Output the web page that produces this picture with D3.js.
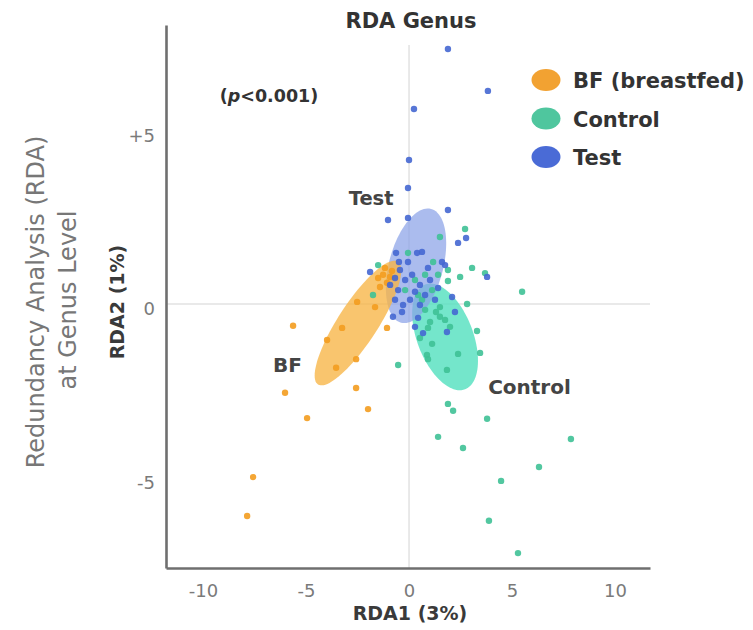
<!DOCTYPE html>
<html><head><meta charset="utf-8">
<script src="https://cdn.jsdelivr.net/npm/d3@7"></script>
<style>
body{margin:0;background:#fff;}
svg{display:block;font-family:"DejaVu Sans",sans-serif;}
</style></head>
<body><svg id="c" width="753" height="630"></svg>
<script>
// ---- data ----
const groups = ["BF (breastfed)", "Control", "Test"];
const groupShort = ["BF", "Control", "Test"];
const xTicks = [-10, -5, 0, 5, 10];
const yTicks = [-5, 0, 5];
const yTickLabels = ["-5", "0", "+5"];

const bfX = [-1.50,-1.26,-0.92,-1.07,-1.41,-1.17,-0.83,-2.52,-1.65,-5.63,-3.25,-1.07,-3.98,-2.57,-3.54,-6.02,-2.57,-1.99,-4.95,-7.57,-7.86];
const bfY = [0.75,0.84,0.78,0.61,0.49,1.04,0.95,0.06,-0.09,-0.63,-0.69,-0.69,-1.04,-1.59,-1.84,-2.56,-2.42,-3.03,-3.29,-4.99,-6.11];

const controlX = [2.72,1.50,-1.50,-0.05,1.89,2.48,3.06,3.69,1.89,5.49,2.82,1.50,1.50,0.92,1.99,3.30,1.12,0.53,3.45,2.38,0.87,0.92,-0.53,1.84,1.89,2.14,3.79,1.41,2.62,7.86,6.31,4.47,3.88,5.29,-1.75,0.29,0.78,1.12,0.44,-0.19,1.31,0.78,1.75,1.02,1.17,0.63,1.41];
const controlY = [2.16,1.93,1.12,1.47,0.98,0.78,1.04,0.89,0.66,0.35,0.00,-0.09,-0.37,-0.69,-0.66,-0.78,-1.15,-0.98,-1.41,-1.44,-1.47,-1.59,-1.76,-1.90,-2.88,-3.08,-3.31,-3.83,-4.15,-3.89,-4.70,-5.10,-6.25,-7.18,0.26,0.69,0.84,0.40,0.26,0.40,-0.23,-0.17,-0.46,-0.52,1.21,0.12,0.84];

const testX = [1.89,3.83,0.24,0.00,-0.05,1.89,-1.02,-0.05,2.77,2.38,-0.63,0.39,0.63,-0.49,1.60,1.75,3.79,-1.89,2.09,2.23,-0.78,0.44,0.29,1.84,0.68,-0.44,-0.19,0.15,0.53,-0.53,0.78,0.05,1.02,-0.29,0.29,1.26,-0.92,0.92,-0.05,0.53,-0.68,1.41,-0.34,-0.68];
const testY = [7.35,6.14,5.62,4.15,3.34,2.71,2.42,2.48,1.90,1.76,1.47,1.47,1.50,1.21,1.21,1.12,0.78,0.92,0.20,-0.23,-0.37,-0.40,-0.66,-0.81,-0.84,0.98,0.69,0.84,0.55,0.40,0.26,0.12,0.69,-0.03,0.35,0.12,0.55,1.04,1.21,-0.03,0.12,0.46,-0.23,0.75];

// confidence ellipses: centre, major and minor half-axis vectors (data units)
const ellipseCenter = [[-2.48,-0.55],[1.75,-0.95],[0.34,1.10]];
const ellipseMajor  = [[1.94,1.77],[0.97,-1.51],[0.73,1.64]];
const ellipseMinor  = [[0.81,-0.31],[1.27,0.29],[1.27,-0.20]];

// ---- styles ----
const pointColor = ["#f39c1f","#3fc196","#4567d2"];
const legendColor = ["#f2a232","#4fc69e","#4a6bd6"];
const ellipseFill = ["#f7b545","#55e0c0","#8ba2e8"];
const ellipseOpacity = [0.78,0.82,0.72];

const svg = d3.select("#c");
const L = 166, R = 650, T = 25, B = 568;
const x = d3.scaleLinear().domain([-11.80, 11.70]).range([L, R]);
const y = d3.scaleLinear().domain([-7.61, 8.04]).range([B, T]);

// gridlines
svg.append("line").attr("x1", x(0)).attr("x2", x(0)).attr("y1", 45).attr("y2", B)
  .attr("stroke", "#e2e2e2").attr("stroke-width", 1.5);
svg.append("line").attr("x1", L).attr("x2", R).attr("y1", y(0)).attr("y2", y(0))
  .attr("stroke", "#e2e2e2").attr("stroke-width", 1.5);

// ellipses
const line = d3.line().x(d => x(d[0])).y(d => y(d[1])).curve(d3.curveLinearClosed);
const order = [1, 2, 0];
order.forEach(i => {
  const pts = d3.range(0, 96).map(k => {
    const t = k / 96 * 2 * Math.PI;
    return [ellipseCenter[i][0] + ellipseMajor[i][0]*Math.cos(t) + ellipseMinor[i][0]*Math.sin(t),
            ellipseCenter[i][1] + ellipseMajor[i][1]*Math.cos(t) + ellipseMinor[i][1]*Math.sin(t)];
  });
  svg.append("path").attr("d", line(pts)).attr("fill", ellipseFill[i]).attr("fill-opacity", ellipseOpacity[i]);
});

// points
const series = [[bfX, bfY], [controlX, controlY], [testX, testY]];
[1, 0, 2].forEach(i => {
  const data = series[i][0].map((v, k) => [v, series[i][1][k]]);
  svg.append("g").selectAll("circle").data(data).join("circle")
    .attr("cx", d => x(d[0])).attr("cy", d => y(d[1])).attr("r", 3.2)
    .attr("fill", pointColor[i]).attr("fill-opacity", 0.9);
});

// axes
const xAxis = svg.append("g").attr("transform", `translate(0,${B})`)
  .call(d3.axisBottom(x).tickValues(xTicks).tickSize(0).tickPadding(16).tickFormat(d => String(d)));
const yAxis = svg.append("g").attr("transform", `translate(${L},0)`)
  .call(d3.axisLeft(y).tickValues(yTicks).tickSize(0).tickPadding(11).tickFormat((d, i) => yTickLabels[i]));
[xAxis, yAxis].forEach(a => {
  a.select(".domain").attr("stroke", "#6f6f6f").attr("stroke-width", 2.6);
  a.selectAll("text").attr("fill", "#7a7a7a").attr("font-size", 18).attr("font-family", "DejaVu Sans, sans-serif");
});
yAxis.selectAll("text").attr("dy", null).attr("y", 6).attr("dominant-baseline", "middle");

// axis titles
svg.append("text").attr("x", 410).attr("y", 620).attr("text-anchor", "middle")
  .attr("font-size", 19).attr("font-weight", "bold").attr("fill", "#3a3a3a").text("RDA1 (3%)");
svg.append("text").attr("transform", "translate(124,302) rotate(-90)").attr("text-anchor", "middle")
  .attr("font-size", 19).attr("font-weight", "bold").attr("fill", "#3a3a3a").text("RDA2 (1%)");
svg.append("text").attr("transform", "translate(44,302) rotate(-90)").attr("text-anchor", "middle")
  .attr("font-size", 24).attr("fill", "#777").text("Redundancy Analysis (RDA)");
svg.append("text").attr("transform", "translate(76,300) rotate(-90)").attr("text-anchor", "middle")
  .attr("font-size", 24).attr("fill", "#777").text("at Genus Level");

// title and p value
svg.append("text").attr("x", 411).attr("y", 28).attr("text-anchor", "middle")
  .attr("font-size", 21).attr("font-weight", "bold").attr("fill", "#333").text("RDA Genus");
const pv = svg.append("text").attr("x", 269).attr("y", 102).attr("text-anchor", "middle")
  .attr("font-size", 17.5).attr("font-weight", "bold").attr("fill", "#333");
pv.append("tspan").text("(");
pv.append("tspan").attr("font-style", "italic").text("p");
pv.append("tspan").text("<0.001)");

// group labels in plot
const labelPos = [[-5.9, -1.95], [5.85, -2.6], [-1.84, 2.85]];
const labelSize = [20, 20, 19.5];
groupShort.forEach((g, i) => {
  svg.append("text").attr("x", x(labelPos[i][0])).attr("y", y(labelPos[i][1]))
    .attr("text-anchor", "middle").attr("font-size", labelSize[i]).attr("font-weight", "bold")
    .attr("fill", "#444").text(g);
});

// legend
groups.forEach((g, i) => {
  const cy = 80 + i * 38.5;
  svg.append("ellipse").attr("cx", 546).attr("cy", cy).attr("rx", 14.5).attr("ry", 11)
    .attr("fill", legendColor[i]);
  svg.append("text").attr("x", 573).attr("y", cy + 8).attr("font-size", 21)
    .attr("font-weight", "bold").attr("fill", "#333").text(g);
});
</script></body></html>
